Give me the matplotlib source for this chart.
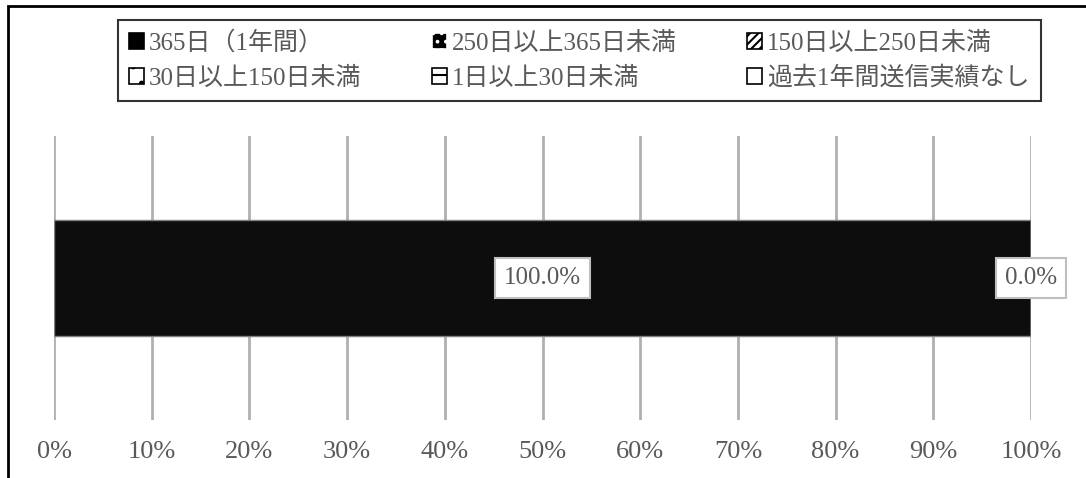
import matplotlib
matplotlib.use("Agg")
import matplotlib.pyplot as plt
from matplotlib.patches import Rectangle, Patch

plt.rcParams['font.family'] = ['Liberation Serif', 'Noto Sans CJK JP']
plt.rcParams['hatch.linewidth'] = 1.5

categories = ['365日（1年間）', '250日以上365日未満', '150日以上250日未満',
              '30日以上150日未満', '1日以上30日未満', '過去1年間送信実績なし']
shares = [1.0, 0.0, 0.0, 0.0, 0.0, 0.0]
ticks = [0, 0.1, 0.2, 0.3, 0.4, 0.5, 0.6, 0.7, 0.8, 0.9, 1.0]

text_gray = '#595959'

fig = plt.figure(figsize=(10.86, 4.78), dpi=100)
ax = fig.add_axes([54 / 1086, 1 - 420 / 478, 977 / 1086, 284 / 478])

# stacked horizontal bar
left = 0.0
bars = []
for name, v in zip(categories, shares):
    b = ax.barh(0, v, left=left, height=0.405, color='#0d0d0d',
                edgecolor='#7f7f7f', linewidth=1, zorder=3)
    bars.append((b, left, v))
    left += v

# data labels: first segment and last segment
box = dict(boxstyle='square,pad=0.35', facecolor='white', edgecolor='#bfbfbf', linewidth=1.5)
b0, l0, v0 = bars[0]
ax.text(l0 + v0 / 2, 0, f'{v0 * 100:.1f}%', ha='center', va='center',
        fontsize=18, color=text_gray, bbox=box, zorder=5)
bl, ll, vl = bars[-1]
ax.text(ll + vl / 2, 0, f'{vl * 100:.1f}%', ha='center', va='center',
        fontsize=18, color=text_gray, bbox=box, zorder=5)

ax.set_xlim(0, 1)
ax.set_ylim(-0.5, 0.5)
ax.set_xticks(ticks)
ax.set_xticklabels([f'{int(round(t * 100))}%' for t in ticks])
ax.tick_params(axis='x', length=0, pad=15, labelsize=19, labelcolor=text_gray)
ax.set_yticks([])
for t in ticks:
    ax.axvline(t, color='#b0b0b0', linewidth=2, zorder=1)
for s in ax.spines.values():
    s.set_visible(False)

# legend with hatch swatches
handles = [
    Patch(facecolor='black', edgecolor='black', linewidth=1.2),
    Patch(facecolor='black', edgecolor='white', hatch='..', linewidth=1.2),
    Patch(facecolor='white', edgecolor='black', hatch='////', linewidth=1.2),
    Patch(facecolor='white', edgecolor='black', hatch='.', linewidth=1.2),
    Patch(facecolor='white', edgecolor='black', hatch='-', linewidth=1.2),
    Patch(facecolor='white', edgecolor='black', linewidth=1.2),
]
order = [0, 3, 1, 4, 2, 5]
leg = fig.legend([handles[i] for i in order], [categories[i] for i in order],
                 ncol=3, loc='upper left', bbox_to_anchor=(118 / 1086, 1 - 20 / 478),
                 fontsize=18, frameon=True, fancybox=False, edgecolor='black',
                 handlelength=0.6, handleheight=0.6, handletextpad=0.2,
                 columnspacing=2.8, labelspacing=0.45, borderpad=0.45,
                 borderaxespad=0)
leg.get_frame().set_linewidth(1.5)
for txt in leg.get_texts():
    txt.set_color(text_gray)

# outer chart frame
fig.add_artist(Rectangle((8 / 1086, -0.2), 1.2, 1.2 - 6 / 478, transform=fig.transFigure,
                         fill=False, edgecolor='black', linewidth=2, clip_on=False))

fig.savefig('out.png', dpi=100)
